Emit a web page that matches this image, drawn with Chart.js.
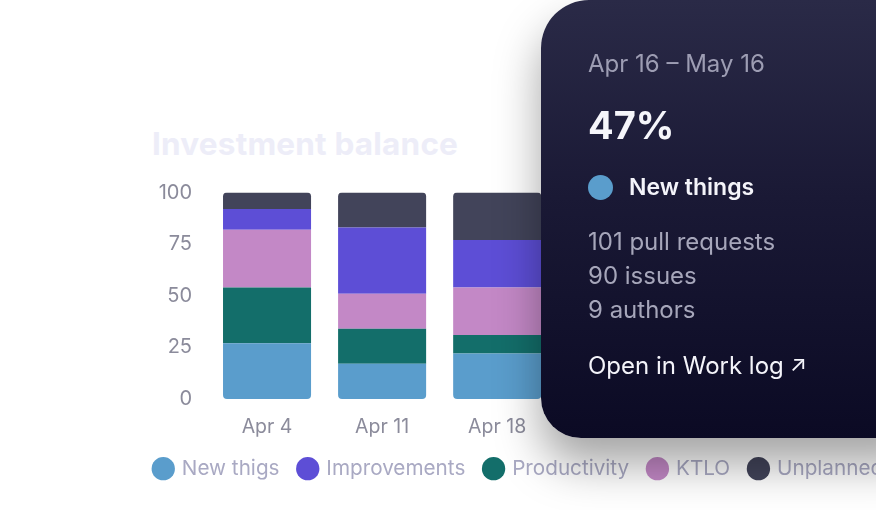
<!DOCTYPE html>
<html>
<head>
<meta charset="utf-8">
<script src="https://cdn.jsdelivr.net/npm/chart.js@4"></script>
<style>
  html, body { margin: 0; padding: 0; background: #fff; overflow: hidden; width: 876px; height: 510px; }
  body { position: relative; font-family: Inter, "Noto Sans", sans-serif; }
  #title {
    position: absolute; left: 152px; top: 124px;
    font-size: 31.5px; font-weight: 700; color: #ededf8; letter-spacing: 0.2px; white-space: nowrap;
  }
  #wrap { position: absolute; left: 135px; top: 163px; width: 880px; height: 326px; }
  #card {
    position: absolute; left: 541px; top: 0px; width: 380px; height: 438px;
    border-radius: 48px 0 0 40px;
    background: linear-gradient(180deg, #2a2a47 0%, #1a1935 45%, #0b0a24 100%);
    box-shadow: 0 26px 46px rgba(0, 0, 0, 0.36);
    color: #f4f4fa;
  }
  #card div { position: absolute; left: 47px; white-space: nowrap; }
  #range { top: 49px; font-size: 24px; line-height: 29px; color: #9d9db3; }
  #pct { top: 102px; font-size: 38px; line-height: 46px; font-weight: 700; color: #f6f6fb; }
  #series { top: 173px; font-size: 23px; line-height: 29px; font-weight: 600; }
  #series span { display: inline-block; width: 25px; height: 25px; border-radius: 50%; background: #5a9dcc; vertical-align: -5px; margin-right: 16px; }
  #stats { top: 225px; font-size: 24px; line-height: 34px; color: #a6a6ba; }
  #link { top: 349px; font-size: 24px; line-height: 29px; color: #f4f4fa; }
  #link span { font-size: 22px; margin-left: 6px; vertical-align: 3px; }
</style>
</head>
<body>
<div id="title">Investment balance</div>
<div id="wrap"><canvas id="myChart"></canvas></div>
<div id="card">
  <div id="range"></div>
  <div id="pct"></div>
  <div id="series"><span></span><b style="font-weight:600"></b></div>
  <div id="stats"></div>
  <div id="link">Open in Work log<span>↗</span></div>
</div>
<script>
// weeks on the x axis (the last ones sit behind the tooltip card)
const weeks = ['Apr 4', 'Apr 11', 'Apr 18', 'Apr 25', 'May 2', 'May 9', 'May 16'];

// share of work per week, in %
const newThings    = [27, 17, 22, null, null, null, null];
const productivity = [27, 17, 9, null, null, null, null];
const ktlo         = [28, 17, 23, null, null, null, null];
const improvements = [10, 32, 23, null, null, null, null];
const unplanned    = [8, 17, 23, null, null, null, null];

const yTicks = [0, 25, 50, 75, 100];

// tooltip card
const cardRange = 'Apr 16 – May 16';
const cardPercent = 47;
const cardSeries = 'New things';
const cardStats = ['101 pull requests', '90 issues', '9 authors'];

// legend order differs from stack order
const legendOrder = ['New thigs', 'Improvements', 'Productivity', 'KTLO', 'Unplanned'];

window.addEventListener('load', setupChart);

function setupChart() {
  document.getElementById('range').textContent = cardRange;
  document.getElementById('pct').textContent = cardPercent + '%';
  document.querySelector('#series b').textContent = cardSeries;
  document.getElementById('stats').innerHTML = cardStats.join('<br>');

  const ctx = document.getElementById('myChart').getContext('2d');
  const r = 4;

  new Chart(ctx, {
    type: 'bar',
    data: {
      labels: weeks,
      datasets: [{
        label: 'New thigs',
        data: newThings,
        backgroundColor: '#5a9dcc',
        borderRadius: { bottomLeft: r, bottomRight: r, topLeft: 0, topRight: 0 }
      }, {
        label: 'Productivity',
        data: productivity,
        backgroundColor: '#136e6a'
      }, {
        label: 'KTLO',
        data: ktlo,
        backgroundColor: '#c388c6'
      }, {
        label: 'Improvements',
        data: improvements,
        backgroundColor: '#5d4ed6'
      }, {
        label: 'Unplanned',
        data: unplanned,
        backgroundColor: '#42445a',
        borderRadius: { topLeft: r, topRight: r, bottomLeft: 0, bottomRight: 0 }
      }]
    },
    options: {
      responsive: true,
      maintainAspectRatio: false,
      animation: false,
      layout: { padding: { top: 20 } },
      datasets: {
        bar: {
          borderSkipped: false,
          categoryPercentage: 0.765,
          barPercentage: 1
        }
      },
      scales: {
        x: {
          stacked: true,
          grid: { display: false, drawTicks: false },
          border: { display: false },
          afterFit: axis => { axis.height = axis.height - 18; },
          ticks: {
            padding: 17,
            color: '#8b8b9b',
            font: { family: 'Inter', size: 19.5 }
          }
        },
        y: {
          stacked: true,
          min: 0,
          max: 100,
          grid: { display: false, drawTicks: false },
          border: { display: false },
          afterFit: axis => { axis.width = 74.5; },
          afterBuildTicks: axis => { axis.ticks = yTicks.map(v => ({ value: v })); },
          ticks: {
            padding: 17.5,
            color: '#8b8b9b',
            font: { family: 'Inter', size: 20 }
          }
        }
      },
      plugins: {
        tooltip: { enabled: false },
        legend: {
          position: 'bottom',
          align: 'start',
          labels: {
            usePointStyle: true,
            pointStyle: 'circle',
            boxWidth: 16.5,
            boxHeight: 16.5,
            padding: 20,
            color: '#a9a9c3',
            font: { family: 'Inter', size: 20.7 },
            sort: (a, b) => legendOrder.indexOf(a.text) - legendOrder.indexOf(b.text)
          }
        }
      }
    }
  });
}
</script>
</body>
</html>
